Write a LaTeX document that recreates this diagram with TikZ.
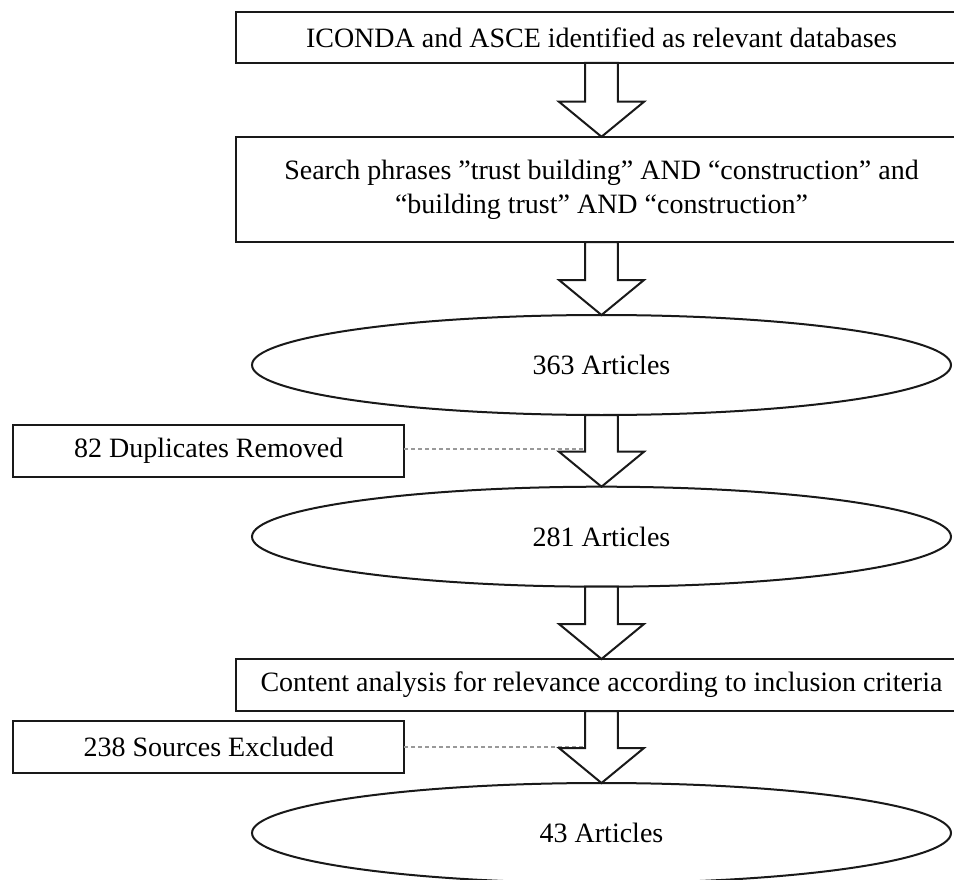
\documentclass[tikz,border=0pt]{standalone}
\usepackage{fontspec}
\setmainfont{Liberation Serif}
\usetikzlibrary{shapes.geometric,calc}

% Block arrow from the bottom of one node to the top of the next
\newcommand\flowarrow[2]{%
  \draw[blockarr] let \p1=(#1.south), \p2=(#2.north) in
    (\x1-16.3pt,\y1) -- (\x1-16.3pt,\y2+35pt) -- (\x1-42.5pt,\y2+35pt)
    -- (\x1,\y2) -- (\x1+42.5pt,\y2+35pt) -- (\x1+16.3pt,\y2+35pt)
    -- (\x1+16.3pt,\y1) -- cycle;}

\tikzset{
  txt/.style={font=\fontsize{28}{34}\selectfont, align=center},
  stepbox/.style={txt, draw=black!90, line width=2.2pt, fill=white,
    inner sep=0pt, outer sep=0pt, rectangle},
  wide/.style={stepbox, minimum width=731pt},
  side/.style={stepbox, minimum width=390.7pt, minimum height=52pt},
  count/.style={txt, ellipse, draw=black!90, line width=2pt, fill=white,
    inner sep=0pt, outer sep=0pt, minimum width=699pt, minimum height=100pt},
  blockarr/.style={draw=black!90, line width=2pt, fill=white, line join=miter},
  dotline/.style={draw=black!40, line width=1.6pt, dash pattern=on 4pt off 3pt}
}

\begin{document}
\begin{tikzpicture}[x=1pt,y=-1pt]
  \useasboundingbox (0,0) rectangle (954,880);
  \clip (0,0) rectangle (954,880);
  \fill[white] (0,0) rectangle (954,880);

  % main column
  \node[wide, minimum height=51.3pt] (db) at (601.5,37.3)
    {ICONDA and ASCE identified as relevant databases};
  \node[wide, minimum height=105.3pt] (search) at (601.5,189.4)
    {Search phrases ”trust building” AND “construction” and\\
     “building trust” AND “construction”};
  \node[count] (n363) at (601.5,365) {363 Articles};
  \node[count] (n281) at (601.5,536.7) {281 Articles};
  \node[wide, minimum height=52pt] (content) at (601.5,685)
    {Content analysis for relevance according to inclusion criteria};
  \node[count] (n43) at (601.5,833) {43 Articles};

  % side notes
  \node[side] (dup) at (208.7,451) {82 Duplicates Removed};
  \node[side] (excl) at (208.7,746.7) {238 Sources Excluded};

  % attachment points on the arrow shafts
  \coordinate (dupend) at (585,449);
  \coordinate (exclend) at (585,746.7);

  \draw[dotline] (dup.east |- dupend) -- (dupend);
  \draw[dotline] (excl.east) -- (exclend);

  % flow arrows
  \flowarrow{db}{search}
  \flowarrow{search}{n363}
  \flowarrow{n363}{n281}
  \flowarrow{n281}{content}
  \flowarrow{content}{n43}
\end{tikzpicture}
\end{document}
